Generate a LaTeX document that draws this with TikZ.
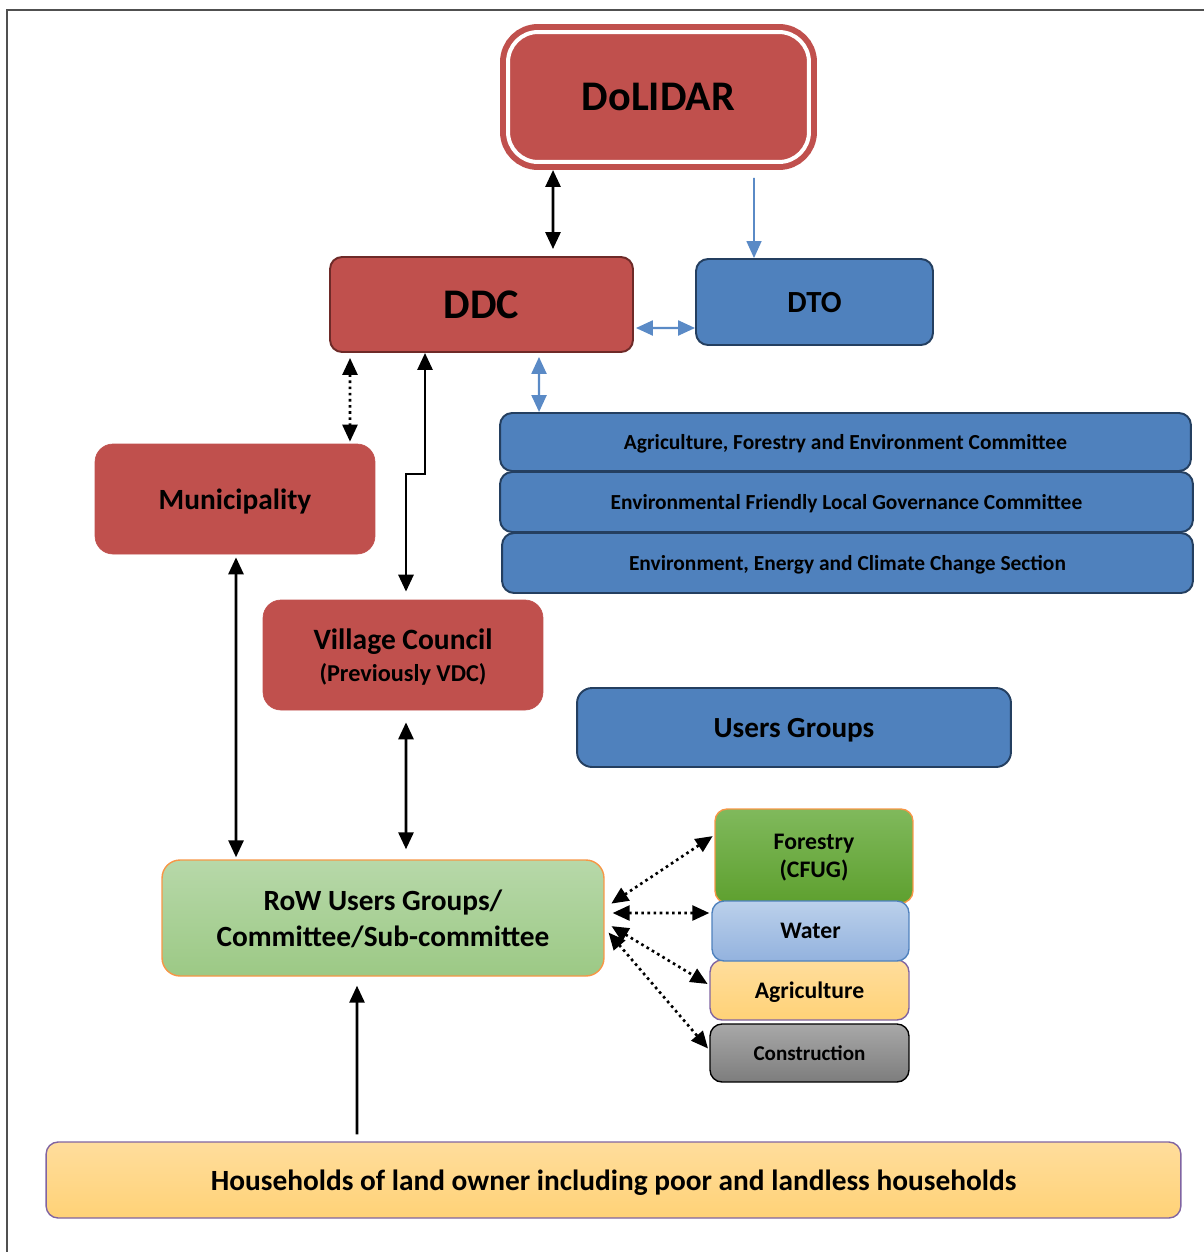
\documentclass[tikz,border=0pt]{standalone}
\usepackage{fontspec}
\setmainfont{Carlito}
\usetikzlibrary{arrows.meta}
\definecolor{dolred}{HTML}{C0504D}
\definecolor{ddcedge}{HTML}{6E2A28}
\definecolor{dtoblue}{HTML}{4F81BD}
\definecolor{bluedge}{HTML}{243F60}
\definecolor{arrowblue}{HTML}{5A8AC6}
\definecolor{rowtop}{HTML}{B7D8A9}
\definecolor{rowbot}{HTML}{9CC985}
\definecolor{orangedge}{HTML}{F79646}
\definecolor{fortop}{HTML}{80B95C}
\definecolor{forbot}{HTML}{5EA02F}
\definecolor{wattop}{HTML}{BBD0EB}
\definecolor{watbot}{HTML}{93B2DE}
\definecolor{goldtop}{HTML}{FFDD9C}
\definecolor{goldbot}{HTML}{FFD277}
\definecolor{purpedge}{HTML}{8064A2}
\definecolor{greytop}{HTML}{A8A8A8}
\definecolor{greybot}{HTML}{7D7D7D}
\definecolor{framegrey}{HTML}{505050}
\newcommand{\fsz}[2]{\fontsize{#1}{#2}\selectfont\bfseries}

\begin{document}
\begin{tikzpicture}[x=0.02cm,y=-0.02cm,
  >={Triangle[length=0.34cm,width=0.3cm]},
  box/.style={rounded corners=0.24cm, inner sep=0pt, align=center, text=black, text depth=0pt},
  redbox/.style={box, fill=dolred, draw=dolred},
  bluebox/.style={box, fill=dtoblue, draw=bluedge, line width=1.1pt},
  gradbox/.style 2 args={box, top color=#1, bottom color=#2, line width=0.8pt},
  conn/.style={line width=1.6pt, <->},
  blueconn/.style={line width=1.3pt, arrowblue, <->},
  dotconn/.style={line width=1.5pt, dotted, <->}]
\useasboundingbox (0,0) rectangle (1204,1252);
\draw[line width=1.2pt, framegrey] (7,1252) -- (7,10) -- (1204,10);

\node[box, fill=dolred, draw=dolred, double=white, line width=0.12cm, double distance=0.08cm,
  rounded corners=0.6cm, outer sep=0.16cm, minimum width=6.02cm, minimum height=2.6cm,
  font=\fsz{24}{28}] (DoLIDAR) at (658.5,97) {DoLIDAR};
\node[redbox, draw=ddcedge, line width=1.1pt, minimum width=6.06cm, minimum height=1.9cm,
  font=\fsz{24}{28}] (DDC) at (481.5,304.5) {DDC};
\node[bluebox, minimum width=4.74cm, minimum height=1.72cm, font=\fsz{17.5}{21}] (DTO) at (814.5,302) {DTO};

\node[bluebox, minimum width=13.82cm, minimum height=1.16cm, font=\fsz{12.2}{14}] (afec) at (845.5,442)
  {Agriculture, Forestry and Environment Committee};
\node[bluebox, minimum width=13.86cm, minimum height=1.2cm, font=\fsz{12.2}{14}] (eflgc) at (846.5,502)
  {Environmental Friendly Local Governance Committee};
\node[bluebox, minimum width=13.82cm, minimum height=1.2cm, font=\fsz{12.2}{14}] (eeccs) at (847.5,563)
  {Environment, Energy and Climate Change Section};

\node[redbox, rounded corners=0.36cm, minimum width=5.6cm, minimum height=2.2cm,
  font=\fsz{16.7}{20}] (muni) at (235,499) {Municipality};
\node[redbox, rounded corners=0.36cm, minimum width=5.6cm, minimum height=2.2cm,
  font=\fsz{16.8}{20}] (village) at (403,655) {Village Council\\[-2pt]{\fsz{13.8}{16}(Previously VDC)}};

\node[bluebox, rounded corners=0.3cm, minimum width=8.68cm, minimum height=1.58cm,
  font=\fsz{16.6}{20}] (users) at (794,727.5) {Users Groups};

\node[gradbox={rowtop}{rowbot}, draw=orangedge, rounded corners=0.36cm, minimum width=8.84cm,
  minimum height=2.32cm, font=\fsz{16.7}{20.5}] (row) at (383,918)
  {RoW Users Groups/\\Committee/Sub-committee};

\node[gradbox={fortop}{forbot}, draw=orangedge, minimum width=3.96cm, minimum height=1.88cm,
  font=\fsz{13.5}{16}] (forestry) at (814,856) {Forestry\\(CFUG)};
\node[gradbox={goldtop}{goldbot}, draw=purpedge, minimum width=3.98cm, minimum height=1.2cm,
  font=\fsz{13.5}{16}] (agri) at (809.5,990) {Agriculture};
\node[gradbox={wattop}{watbot}, draw=dtoblue, minimum width=3.94cm, minimum height=1.2cm,
  font=\fsz{13.5}{16}] (water) at (810.5,931) {Water};
\node[gradbox={greytop}{greybot}, draw=black, minimum width=3.98cm, minimum height=1.16cm,
  font=\fsz{12}{14}] (constr) at (809.5,1053) {Construction};

\node[gradbox={goldtop}{goldbot}, draw=purpedge, minimum width=22.7cm, minimum height=1.52cm,
  font=\fsz{16.7}{19}] (house) at (613.5,1180)
  {Households of land owner including poor and landless households};

\draw[conn, shorten >=0.14cm] ([xshift=-2.11cm]DoLIDAR.south) -- ([xshift=1.43cm]DDC.north);
\draw[blueconn, line width=0.9pt, ->, shorten <=0.16cm] ([xshift=1.91cm]DoLIDAR.south) -- ([xshift=-1.21cm]DTO.north);
\draw[blueconn, shorten <=0.04cm] ([yshift=-0.47cm]DDC.east) -- ([yshift=-0.52cm]DTO.west);
\draw[blueconn, shorten <=0.08cm] ([xshift=1.15cm]DDC.south) -- ([xshift=-6.13cm]afec.north);
\draw[dotconn, shorten <=0.1cm, shorten >=0.04cm] ([xshift=-2.63cm]DDC.south) -- ([xshift=2.3cm]muni.north);
\draw[conn, shorten >=0.16cm] ([xshift=-1.13cm]DDC.south) -- ++(0,-2.42cm) -| ([xshift=0.06cm]village.north);
\draw[conn, shorten <=0.06cm, shorten >=0.04cm] ([xshift=0.02cm]muni.south) -- ([xshift=-2.94cm]row.north);
\draw[conn, shorten <=0.24cm, shorten >=0.2cm] ([xshift=0.06cm]village.south) -- ([xshift=0.46cm]row.north);
\draw[conn, ->, shorten <=0.14cm, shorten >=0.18cm] ([xshift=-5.13cm]house.north) -- ([xshift=-0.52cm]row.south);

\draw[dotconn, shorten <=0.16cm, shorten >=0.04cm] ([yshift=0.2cm]row.east) -- ([yshift=0.42cm]forestry.west);
\draw[dotconn, shorten <=0.16cm, shorten >=0.04cm] ([yshift=0.1cm]row.east) -- ([yshift=0.36cm]water.west);
\draw[dotconn, shorten <=0.16cm, shorten >=0.04cm] ([yshift=-0.08cm]row.east) -- ([yshift=0.1cm]agri.west);
\draw[dotconn, shorten <=0.12cm, shorten >=0.04cm] ([yshift=-0.2cm]row.east) -- ([yshift=0.06cm]constr.west);
\end{tikzpicture}
\end{document}
